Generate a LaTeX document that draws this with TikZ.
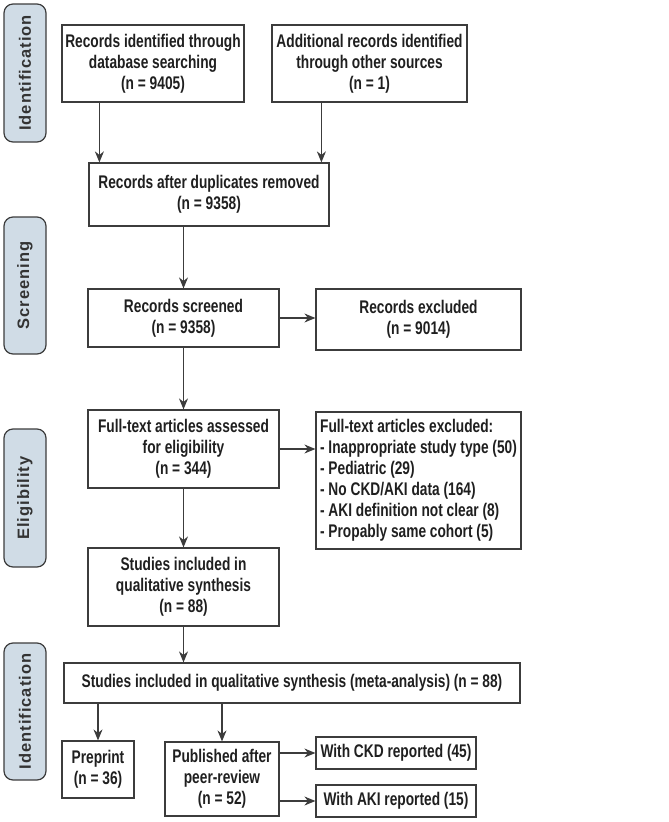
\documentclass[tikz,border=0pt]{standalone}
\usepackage{fontspec}
\setmainfont{Liberation Sans}[FakeStretch=0.75]
\newfontfamily\phasefont{Liberation Sans}[LetterSpace=6]
\usetikzlibrary{arrows.meta}
\definecolor{phasefill}{RGB}{208,220,230}
\definecolor{linegray}{RGB}{60,60,60}
\begin{document}
\begin{tikzpicture}[x=1pt, y=-1pt,
        box/.style={draw=linegray, line width=1.2pt, inner sep=0pt, align=center,
            font=\bfseries\fontsize{18.3}{21}\selectfont, text=black!88},
        phase/.style={draw=linegray, line width=1.2pt, fill=phasefill, rounded corners=9pt,
            minimum width=42pt, inner sep=0pt, rotate=90,
            font=\phasefont\bfseries\fontsize{16.5}{18}\selectfont, text=black!80},
        arr/.style={draw=linegray, line width=1.2pt, -{Stealth[length=11pt,width=9pt]}}]
        \useasboundingbox (0,0) rectangle (669,822);

        % Phase labels on the left
        \node[phase, minimum width=138pt, minimum height=42pt] (p1) at (25,73) {Identification};
        \node[phase, minimum width=137pt, minimum height=42pt] (p2) at (25,285.5) {Screening};
        \node[phase, minimum width=138pt, minimum height=42pt] (p3) at (25,498) {Eligibility};
        \node[phase, minimum width=137pt, minimum height=42pt] (p4) at (25,711.5) {Identification};

        % Identification
        \node[box, minimum width=182pt, minimum height=77pt] (ident) at (153,63.5)
            {Records identified through\\database searching\\(n = 9405)};
        \node[box, minimum width=195pt, minimum height=77pt] (other) at (369.5,63.5)
            {Additional records identified\\through other sources\\(n = 1)};
        \node[box, minimum width=240pt, minimum height=63pt] (dedup) at (209,194.5)
            {Records after duplicates removed\\(n = 9358)};

        % Screening
        \node[box, minimum width=191pt, minimum height=58pt] (screened) at (183.5,318)
            {Records screened\\(n = 9358)};
        \node[box, minimum width=205pt, minimum height=61pt] (excl) at (418.5,319.5)
            {Records excluded\\(n = 9014)};

        % Eligibility
        \node[box, minimum width=191pt, minimum height=78pt] (fulltext) at (183.5,449)
            {Full-text articles assessed\\for eligibility\\(n = 344)};
        \node[box, minimum width=205pt, minimum height=137pt, align=left] (ftexcl) at (418.5,480.5)
            {Full-text articles excluded:\\- Inappropriate study type (50)\\- Pediatric (29)\\- No CKD/AKI data (164)\\- AKI definition not clear (8)\\- Propably same cohort (5)};
        \node[box, minimum width=191pt, minimum height=78pt] (qual) at (183.5,587)
            {Studies included in\\qualitative synthesis\\(n = 88)};

        % Included
        \node[box, minimum width=456pt, minimum height=40pt] (meta) at (292,683)
            {Studies included in qualitative synthesis (meta-analysis) (n = 88)};
        \node[box, minimum width=72pt, minimum height=57pt] (preprint) at (98,769.5)
            {Preprint\\(n = 36)};
        \node[box, minimum width=114pt, minimum height=74pt] (published) at (222,779)
            {Published after\\peer-review\\(n = 52)};
        \node[box, minimum width=160pt, minimum height=32pt] (ckd) at (396,753)
            {With CKD reported (45)};
        \node[box, minimum width=160pt, minimum height=32pt] (aki) at (396,801)
            {With AKI reported (15)};

        % Arrows
        \draw[arr] ([xshift=38pt]ident.south west) -- ([xshift=38pt]ident.south west |- dedup.north);
        \draw[arr] ([xshift=50pt]other.south west) -- ([xshift=50pt]other.south west |- dedup.north);
        \draw[arr] (screened.north |- dedup.south) -- (screened.north);
        \draw[arr] (screened.east) -- (screened.east -| excl.west);
        \draw[arr] (screened) -- (fulltext);
        \draw[arr] (fulltext.east) -- (fulltext.east -| ftexcl.west);
        \draw[arr] (fulltext) -- (qual);
        \draw[arr] (qual.south) -- (qual.south |- meta.north);
        \draw[arr] (preprint.north |- meta.south) -- (preprint.north);
        \draw[arr] (published.north |- meta.south) -- (published.north);
        \draw[arr] (ckd.west -| published.east) -- (ckd.west);
        \draw[arr] (aki.west -| published.east) -- (aki.west);
    \end{tikzpicture}
\end{document}
